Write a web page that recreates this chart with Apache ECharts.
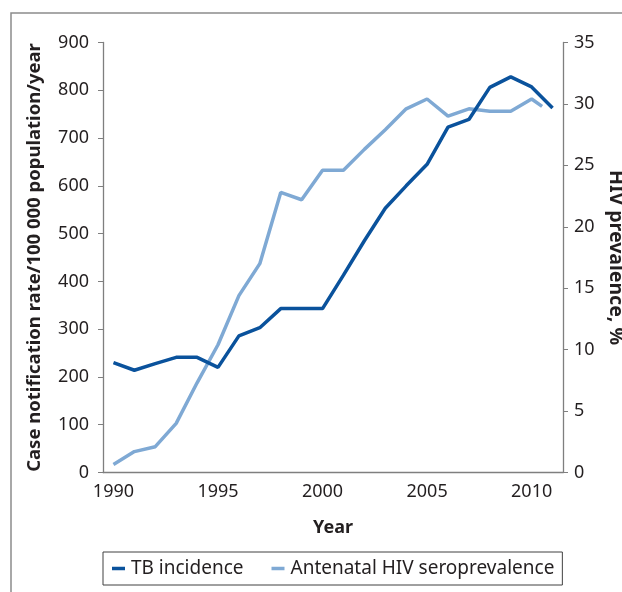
<!DOCTYPE html>
<html>
<head>
<meta charset="utf-8">
<script src="https://cdn.jsdelivr.net/npm/echarts@6/dist/echarts.min.js"></script>
<style>
  html, body { margin: 0; padding: 0; background: #fff; }
  #main { width: 622px; height: 592px; }
</style>
</head>
<body>
<div id="main"></div>
<script>
// categories on the x axis
const years = ["1990", "1991", "1992", "1993", "1994", "1995", "1996", "1997", "1998", "1999", "2000",
  "2001", "2002", "2003", "2004", "2005", "2006", "2007", "2008", "2009", "2010", "2011"];

// TB case notification rate per 100 000 / year (left axis)
const tbIncidence = [230, 214, 228, 241, 241, 220, 286, 303, 343, 343, 343,
  413, 485, 553, 600, 645, 723, 739, 806, 828, 807, 763];

// antenatal HIV seroprevalence, % (right axis), x given in years
const hivYears = [1990, 1991, 1992, 1993, 1994, 1995, 1996, 1997, 1998, 1999, 2000,
  2001, 2002, 2003, 2004, 2005, 2006, 2007, 2008, 2009, 2010, 2010.5];
const hivPrev = [0.65, 1.7, 2.1, 4.0, 7.3, 10.4, 14.4, 17.0, 22.8, 22.2, 24.6,
  24.6, 26.3, 27.9, 29.6, 30.4, 29.0, 29.6, 29.4, 29.4, 30.4, 29.8];

const leftTicks = { min: 0, max: 900, interval: 100 };
const rightTicks = { min: 0, max: 35, interval: 5 };

const darkBlue = "#0a529c";
const lightBlue = "#7fa9d4";
const axisGray = "#7f7f7f";
const textCol = "#231f20";
const font = "Noto Sans";

const chart = echarts.init(document.getElementById("main"));

const option = {
  animation: false,
  textStyle: { fontFamily: font },
  graphic: [
    {
      type: "polyline",
      shape: { points: [[11, 600], [11, 13], [630, 13]] },
      style: { stroke: "#8c8c8c", lineWidth: 1.5, fill: null },
    },
  ],
  grid: { left: 103, right: 59, top: 42.5, bottom: 119.5, containLabel: false, outerBoundsMode: "none" },
  legend: {
    left: 103,
    top: 552,
    padding: [7, 8, 7, 9],
    borderColor: "#404040",
    borderWidth: 1,
    itemGap: 28,
    itemWidth: 13,
    itemHeight: 3.5,
    icon: "rect",
    textStyle: { fontFamily: font, fontSize: 19, color: textCol, padding: [0, 0, 0, 1] },
    data: ["TB incidence", "Antenatal HIV seroprevalence"],
  },
  xAxis: [
    {
      type: "category",
      data: years,
      boundaryGap: true,
      name: "Year",
      nameLocation: "middle",
      nameGap: 46,
      nameTextStyle: { fontFamily: font, fontSize: 18, fontWeight: "bold", color: textCol },
      axisLine: { lineStyle: { color: axisGray, width: 1.3 } },
      axisTick: { interval: 0, length: 5, lineStyle: { color: axisGray } },
      axisLabel: {
        interval: 4,
        margin: 10,
        fontSize: 18,
        color: textCol,
        fontFamily: font,
      },
      splitLine: { show: false },
    },
    {
      type: "value",
      show: false,
      min: 1989.5,
      max: 2011.5,
    },
  ],
  yAxis: [
    {
      type: "value",
      min: leftTicks.min,
      max: leftTicks.max,
      interval: leftTicks.interval,
      name: "Case notification rate/100 000 population/year",
      nameLocation: "middle",
      nameGap: 59,
      nameTextStyle: { fontFamily: font, fontSize: 18.5, fontWeight: "bold", color: textCol },
      axisLine: { show: true, lineStyle: { color: axisGray, width: 1.3 } },
      axisTick: { show: true, length: 5, lineStyle: { color: axisGray } },
      axisLabel: { margin: 14, fontSize: 18, color: textCol, fontFamily: font },
      splitLine: { show: false },
    },
    {
      type: "value",
      position: "right",
      min: rightTicks.min,
      max: rightTicks.max,
      interval: rightTicks.interval,
      name: "HIV prevalence, %",
      nameLocation: "middle",
      nameRotate: -90,
      nameGap: 41,
      nameTextStyle: { fontFamily: font, fontSize: 19.5, fontWeight: "bold", color: textCol },
      axisLine: { show: true, lineStyle: { color: axisGray, width: 1.3 } },
      axisTick: { show: true, length: 5, lineStyle: { color: axisGray } },
      axisLabel: { margin: 11, fontSize: 18, color: textCol, fontFamily: font },
      splitLine: { show: false },
    },
  ],
  series: [
    {
      name: "TB incidence",
      type: "line",
      xAxisIndex: 0,
      yAxisIndex: 0,
      data: tbIncidence,
      showSymbol: false,
      symbol: "none",
      color: darkBlue,
      lineStyle: { color: darkBlue, width: 3.5 },
      z: 3,
    },
    {
      name: "Antenatal HIV seroprevalence",
      type: "line",
      xAxisIndex: 1,
      yAxisIndex: 1,
      data: hivYears.map((y, i) => [y, hivPrev[i]]),
      showSymbol: false,
      symbol: "none",
      color: lightBlue,
      lineStyle: { color: lightBlue, width: 3.5 },
      z: 2,
    },
  ],
};

chart.setOption(option);
</script>
</body>
</html>
